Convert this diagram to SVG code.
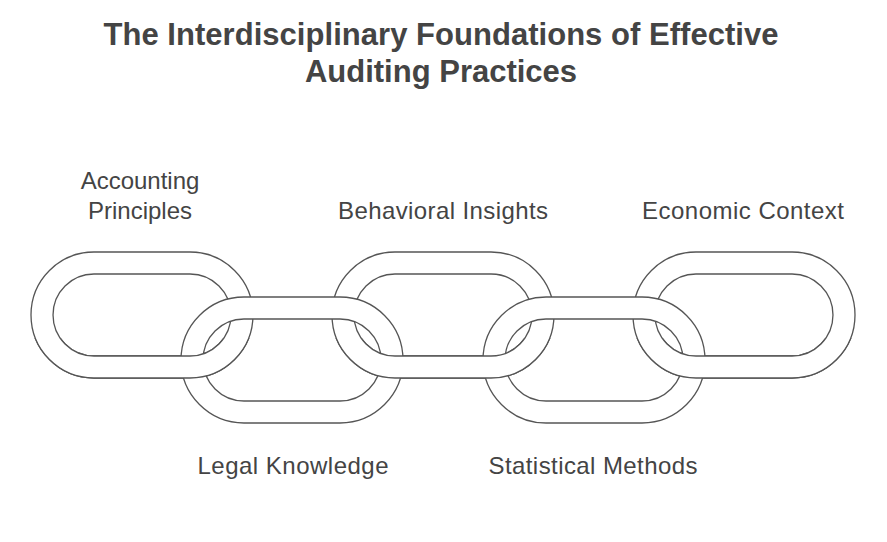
<svg xmlns="http://www.w3.org/2000/svg" xmlns:xlink="http://www.w3.org/1999/xlink" width="887" height="542" viewBox="0 0 887 542">
<style>
.t{font-family:"Liberation Sans",Arial,sans-serif;font-weight:bold;font-size:31px;fill:#444;text-anchor:middle}
.l{font-family:"Liberation Sans",Arial,sans-serif;font-size:24px;fill:#444;text-anchor:middle}
.ring{fill:#fff;fill-rule:evenodd;stroke:#555;stroke-width:1.3}
</style>
<defs>
<path id="up" d="M94,252 H190 A63,63 0 0 1 190,378 H94 A63,63 0 0 1 94,252 Z M94,274 H190 A41,41 0 0 1 190,356 H94 A41,41 0 0 1 94,274 Z"/>
<clipPath id="bot"><rect x="0" y="338" width="887" height="204"/></clipPath>
</defs>
<rect width="887" height="542" fill="#fff"/>
<text class="t" x="441" y="45" textLength="675">The Interdisciplinary Foundations of Effective</text>
<text class="t" x="441" y="82">Auditing Practices</text>
<g id="link1"><use href="#up" class="ring"/></g>
<g id="link3"><use href="#up" class="ring" x="301"/></g>
<g id="link5"><use href="#up" class="ring" x="602"/></g>
<g id="link2"><use href="#up" class="ring" x="150" y="45"/></g>
<g id="link4"><use href="#up" class="ring" x="452" y="45"/></g>
<g id="connectors" clip-path="url(#bot)">
<use href="#up" class="ring"/>
<use href="#up" class="ring" x="301"/>
<use href="#up" class="ring" x="602"/>
</g>
<g id="labels">
<text class="l" x="140" y="189">Accounting</text>
<text class="l" x="140" y="219">Principles</text>
<text class="l" x="443" y="219" textLength="210">Behavioral Insights</text>
<text class="l" x="743" y="219" textLength="202">Economic Context</text>
<text class="l" x="293" y="474" textLength="191">Legal Knowledge</text>
<text class="l" x="593" y="474" textLength="209">Statistical Methods</text>
</g>
</svg>
